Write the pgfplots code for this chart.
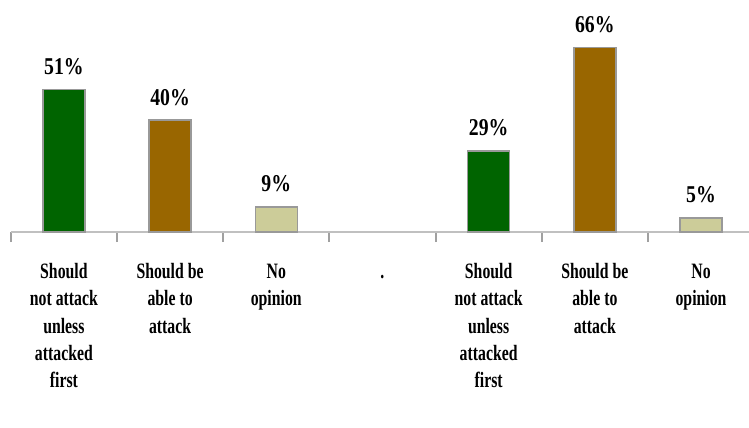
\documentclass[border=0pt]{standalone}
\usepackage{pgfplots}
\pgfplotsset{compat=1.18}
\usepackage{fontspec}
\setmainfont{Liberation Serif}
\usepackage{graphicx}

\definecolor{barGreen}{HTML}{006400}
\definecolor{barBrown}{HTML}{996600}
\definecolor{barKhaki}{HTML}{CCCC99}
\definecolor{axGray}{HTML}{C0C0C0}
\definecolor{tkGray}{HTML}{A0A0A0}
\definecolor{edGray}{HTML}{999999}

\newcommand{\lab}[1]{\scalebox{0.72}[1]{\begin{tabular}{@{}c@{}}#1\end{tabular}}}

\begin{document}
\begin{tikzpicture}
\path[use as bounding box] (-10.8bp,-196bp) rectangle (738.2bp,232bp);
\begin{axis}[
  at={(0,0)}, anchor=south west,
  scale only axis,
  width=738bp, height=232bp,
  xmin=-0.5, xmax=6.45,
  ymin=0, ymax=83,
  axis y line=none,
  axis x line*=bottom,
  axis line style={axGray, line width=2bp},
  xtick={0,1,2,3,4,5,6},
  minor xtick={-0.5,0.5,1.5,2.5,3.5,4.5,5.5},
  major tick length=0pt,
  minor tick length=10bp,
  tick align=outside,
  minor tick style={tkGray, line width=2bp},
  xticklabels={
    {\lab{Should\\not attack\\unless\\attacked\\first}},
    {\lab{Should be\\able to\\attack}},
    {\lab{No\\opinion}},
    {\lab{.}},
    {\lab{Should\\not attack\\unless\\attacked\\first}},
    {\lab{Should be\\able to\\attack}},
    {\lab{No\\opinion}}},
  xticklabel style={anchor=north, inner sep=0pt, yshift=-27bp,
    font=\fontsize{22}{27.5}\selectfont\bfseries},
  ybar, bar width=42bp, bar shift=0pt,
  clip=false,
  point meta=explicit symbolic,
  nodes near coords,
  every node near coord/.append style={anchor=south, inner sep=0pt, yshift=14bp,
    font=\fontsize{22}{26}\selectfont\bfseries, xscale=0.9, yscale=1.1},
]
\addplot[fill=barGreen, draw=edGray, line width=1.5bp] coordinates {(0,51) [51\%] (4,29) [29\%]};
\addplot[fill=barBrown, draw=edGray, line width=1.5bp] coordinates {(1,40) [40\%] (5,66) [66\%]};
\addplot[fill=barKhaki, draw=edGray, line width=1.5bp] coordinates {(2,9) [9\%] (6,5) [5\%]};
\end{axis}
\end{tikzpicture}
\end{document}
